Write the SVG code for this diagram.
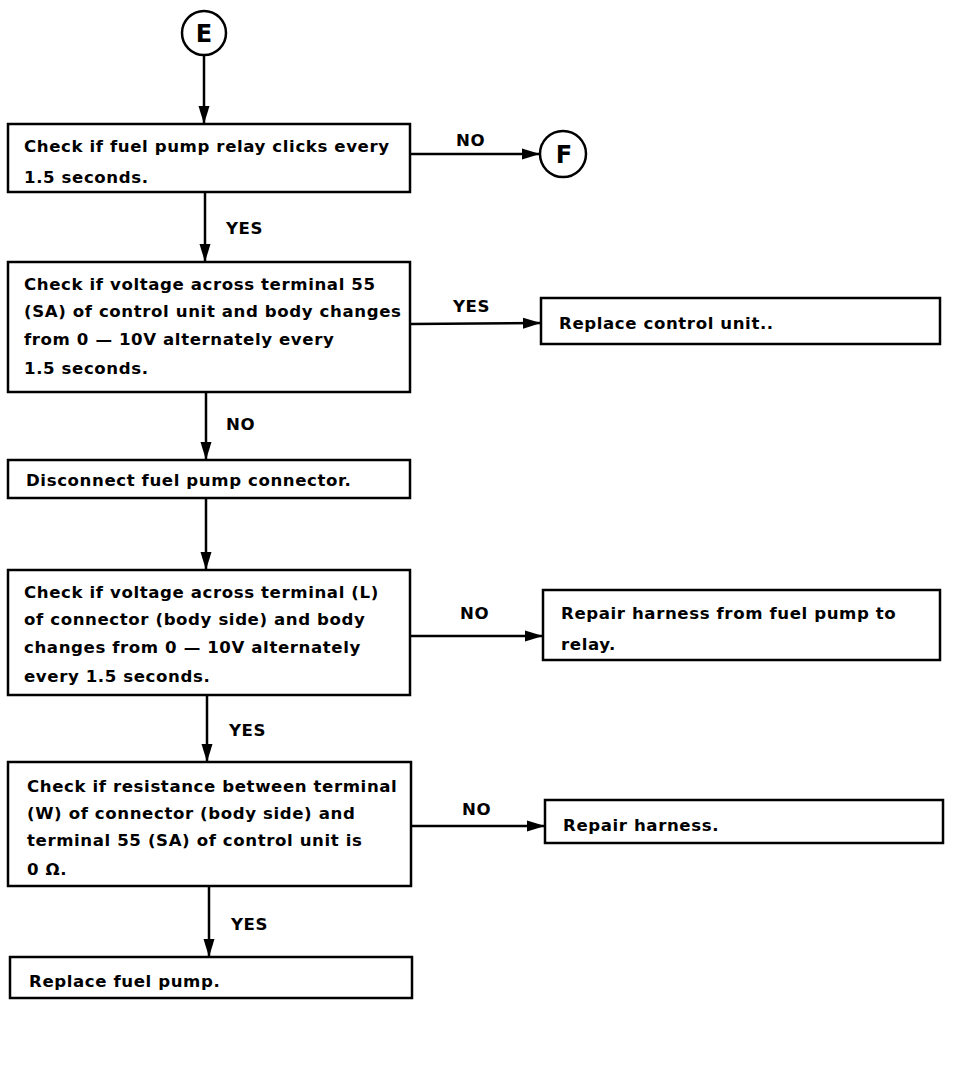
<svg xmlns="http://www.w3.org/2000/svg" width="960" height="1066" viewBox="0 0 960 1066">
<defs>
<marker id="arr" markerUnits="userSpaceOnUse" markerWidth="20" markerHeight="14" refX="18" refY="7" orient="auto">
<path d="M0,1.5 L18,7 L0,12.5 Z" fill="#000"/>
</marker>
<style>
.box{fill:#fff;stroke:#000;stroke-width:2.5}
.ln{fill:none;stroke:#000;stroke-width:2.5}
.t{font-family:"DejaVu Sans","Liberation Sans",Arial,sans-serif;font-size:16.6px;font-weight:bold;letter-spacing:0.6px;fill:#000}
.c{font-family:"DejaVu Sans","Liberation Sans",Arial,sans-serif;font-size:24px;font-weight:bold;fill:#000;text-anchor:middle}
</style>
</defs>
<rect width="960" height="1066" fill="#fff"/>
<g id="connectors">
<line class="ln" x1="204" y1="56" x2="204" y2="124" marker-end="url(#arr)"/>
<line class="ln" x1="410" y1="154" x2="540" y2="154" marker-end="url(#arr)"/>
<line class="ln" x1="205" y1="192" x2="205" y2="262" marker-end="url(#arr)"/>
<line class="ln" x1="410" y1="324" x2="541" y2="323" marker-end="url(#arr)"/>
<line class="ln" x1="206" y1="392" x2="206" y2="460" marker-end="url(#arr)"/>
<line class="ln" x1="206" y1="498" x2="206" y2="570" marker-end="url(#arr)"/>
<line class="ln" x1="410" y1="636" x2="543" y2="636" marker-end="url(#arr)"/>
<line class="ln" x1="207" y1="695" x2="207" y2="762" marker-end="url(#arr)"/>
<line class="ln" x1="411" y1="826" x2="545" y2="826" marker-end="url(#arr)"/>
<line class="ln" x1="209" y1="886" x2="209" y2="957" marker-end="url(#arr)"/>
<text class="t" x="456" y="146">NO</text>
<text class="t" x="226" y="234">YES</text>
<text class="t" x="453" y="312">YES</text>
<text class="t" x="226" y="430">NO</text>
<text class="t" x="460" y="619">NO</text>
<text class="t" x="229" y="736">YES</text>
<text class="t" x="462" y="815">NO</text>
<text class="t" x="231" y="930">YES</text>
</g>
<g id="E">
<circle cx="204" cy="33" r="22" fill="#fff" stroke="#000" stroke-width="2.5"/>
<text class="c" x="204" y="42">E</text>
</g>
<g id="F">
<circle cx="563" cy="154" r="23" fill="#fff" stroke="#000" stroke-width="2.5"/>
<text class="c" x="564" y="163">F</text>
</g>
<g id="n1">
<rect class="box" x="8" y="124" width="402" height="68"/>
<text class="t" x="24" y="152">Check if fuel pump relay clicks every</text>
<text class="t" x="24" y="183">1.5 seconds.</text>
</g>
<g id="n2">
<rect class="box" x="8" y="262" width="402" height="130"/>
<text class="t" x="24" y="290">Check if voltage across terminal 55</text>
<text class="t" x="24" y="317">(SA) of control unit and body changes</text>
<text class="t" x="24" y="345">from 0 — 10V alternately every</text>
<text class="t" x="24" y="374">1.5 seconds.</text>
</g>
<g id="n3">
<rect class="box" x="541" y="298" width="399" height="46"/>
<text class="t" x="559" y="329">Replace control unit..</text>
</g>
<g id="n4">
<rect class="box" x="8" y="460" width="402" height="38"/>
<text class="t" x="26" y="486">Disconnect fuel pump connector.</text>
</g>
<g id="n5">
<rect class="box" x="8" y="570" width="402" height="125"/>
<text class="t" x="24" y="598">Check if voltage across terminal (L)</text>
<text class="t" x="24" y="625">of connector (body side) and body</text>
<text class="t" x="24" y="653">changes from 0 — 10V alternately</text>
<text class="t" x="24" y="682">every 1.5 seconds.</text>
</g>
<g id="n6">
<rect class="box" x="543" y="590" width="397" height="70"/>
<text class="t" x="561" y="619">Repair harness from fuel pump to</text>
<text class="t" x="561" y="650">relay.</text>
</g>
<g id="n7">
<rect class="box" x="8" y="762" width="403" height="124"/>
<text class="t" x="27" y="792">Check if resistance between terminal</text>
<text class="t" x="27" y="819">(W) of connector (body side) and</text>
<text class="t" x="27" y="846">terminal 55 (SA) of control unit is</text>
<text class="t" x="27" y="875">0 Ω.</text>
</g>
<g id="n8">
<rect class="box" x="545" y="800" width="398" height="43"/>
<text class="t" x="563" y="831">Repair harness.</text>
</g>
<g id="n9">
<rect class="box" x="10" y="957" width="402" height="41"/>
<text class="t" x="29" y="987">Replace fuel pump.</text>
</g>
</svg>
